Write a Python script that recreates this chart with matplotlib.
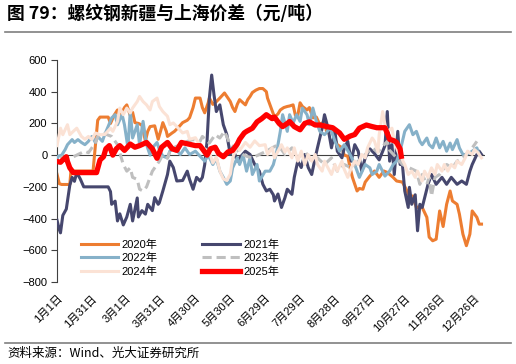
import matplotlib
matplotlib.use("Agg")
import matplotlib.pyplot as plt

plt.rcParams['font.family'] = ['Liberation Sans', 'Noto Sans CJK SC', 'DejaVu Sans']

# day of year (0 = 1月1日) and spread (元/吨) for each year
d2020 = [0, 2, 4, 11, 12, 31, 33, 35, 37, 44, 46, 49, 52, 54, 58, 60, 63, 65, 67, 70, 73, 76, 78, 80,
         84, 87, 89, 91, 94, 95, 99, 101, 105, 108, 112, 114, 117, 119, 123, 125, 127, 130, 131, 134,
         136, 140, 144, 147, 149, 151, 153, 155, 157, 160, 162, 164, 166, 168, 171, 174, 177, 180, 181,
         184, 187, 190, 192, 195, 198, 200, 203, 205, 207, 209, 211, 215, 217, 220, 223, 226, 230, 232,
         236, 239, 241, 245, 247, 250, 252, 254, 258, 260, 263, 265, 269, 273, 277, 281, 284, 289, 292,
         297, 301, 303, 306, 309, 314, 318, 320, 323, 326, 329, 332, 335, 338, 340, 344, 346, 349, 352,
         355, 357, 361, 363, 365]
v2020 = [-120, -180, -185, -185, -100, -100, 60, 220, 240, 240, 200, 250, 285, 240, 300, 317, 250, 270,
         205, 200, 190, 90, 150, 180, 185, 100, 150, 205, 150, 118, 140, 150, 180, 205, 220, 236, 300,
         360, 360, 300, 267, 330, 360, 320, 330, 360, 392, 360, 338, 300, 275, 320, 350, 330, 317, 350,
         370, 395, 410, 420, 420, 400, 360, 300, 240, 260, 285, 300, 307, 310, 317, 250, 250, 330, 307,
         285, 300, 235, 240, 192, 212, 141, 160, 100, 66, 47, 0, -7, -80, -140, -226, -210, -215, -170,
         -132, -100, -140, -100, -109, -140, -163, -170, -226, -257, -258, -330, -330, -392, -517, -540,
         -530, -352, -450, -310, -226, -289, -310, -372, -498, -571, -498, -352, -392, -435, -435]

d2021 = [0, 2, 3, 5, 8, 9, 11, 13, 15, 17, 20, 23, 44, 46, 47, 50, 52, 54, 57, 60, 63, 65, 69, 70, 73,
         76, 78, 82, 84, 87, 88, 91, 95, 97, 100, 103, 108, 112, 114, 117, 120, 123, 125, 127, 129, 131,
         133, 135, 137, 140, 143, 146, 149, 151, 155, 157, 162, 166, 170, 174, 177, 180, 183, 186, 187,
         190, 193, 196, 198, 202, 204, 207, 210, 213, 216, 219, 222, 224, 228, 230, 233, 236, 239, 241,
         245, 247, 250, 253, 256, 259, 262, 265, 269, 273, 277, 282, 284, 286, 288, 290, 293, 295, 297,
         299, 302, 303, 305, 308, 310, 312, 314, 319, 322, 326, 331, 335, 339, 344, 348, 352, 355, 357,
         361, 363, 365]
v2021 = [-410, -470, -490, -380, -340, -290, -190, -140, -165, -110, -150, -200, -200, -230, -310, -290,
         -415, -370, -440, -390, -310, -415, -270, -390, -350, -372, -310, -350, -268, -310, -300, -226,
         -122, -38, -78, -163, -160, -101, -153, -215, -140, -163, -140, -60, 87, 360, 505, 380, 275, 317,
         192, 130, 4, 48, -38, -17, 25, 4, -59, -101, -184, -226, -215, -250, -289, -245, -330, -268,
         -215, -247, -140, -38, -78, 4, -78, -122, -17, 48, 171, 255, 171, 46, 150, 25, -17, 46, 87, -38,
         66, 25, -101, -17, 40, 10, -30, 60, 275, -38, 66, -122, 150, -59, -59, -226, -330, -203, -310,
         -250, -477, -310, -330, -184, -122, -184, -140, -184, -140, -184, -163, -184, -101, -59, 4, 25, 4]

d2022 = [0, 1, 4, 7, 9, 13, 15, 18, 21, 24, 27, 30, 33, 35, 39, 41, 44, 47, 50, 52, 56, 58, 61, 63, 65,
         69, 71, 74, 77, 80, 82, 86, 88, 91, 95, 97, 101, 106, 110, 114, 119, 123, 127, 130, 134, 137,
         140, 143, 146, 149, 151, 155, 157, 160, 163, 166, 168, 172, 174, 179, 183, 186, 189, 192, 194,
         198, 200, 203, 206, 209, 211, 215, 217, 220, 223, 226, 230, 235, 239, 243, 247, 252, 256, 260,
         265, 269, 271, 275, 277, 282, 286, 289, 292, 295, 297, 299, 303, 306, 309, 312, 314, 318, 320,
         323, 326, 329, 332, 335, 338, 340, 344, 346, 349, 352, 355, 357, 361, 363]
v2022 = [-28, -7, 0, 35, 66, 98, 80, 98, 80, 66, 87, 118, 80, 118, 87, 129, 181, 235, 255, 192, 255, 192,
         46, 280, 108, 192, 66, 213, 66, 0, 46, 80, 35, -7, -17, 25, 46, 4, 46, 4, 25, -7, -38, 0, -59,
         -20, -101, -140, -184, -163, -80, -17, -59, 0, -101, -17, -122, -59, -163, -101, -101, -60, 25,
         150, 255, 150, 255, 202, 255, 213, 297, 255, 192, 297, 213, 150, 129, 171, 87, 25, 66, 4, -59,
         -140, -59, -80, -122, -101, -59, -132, -100, -60, -38, 25, 87, 150, 192, 129, 150, 87, 66, 108,
         66, 46, 108, 46, 87, 25, 76, 35, 98, 46, 4, 4, 15, 25, 46, 4]

d2023 = [3, 5, 9, 13, 18, 24, 27, 30, 33, 35, 39, 43, 47, 52, 54, 57, 60, 63, 65, 69, 71, 74, 77, 80, 82,
         86, 88, 91, 95, 97, 100, 106, 112, 117, 123, 125, 131, 136, 140, 144, 149, 153, 157, 163, 168,
         174, 180, 185, 190, 196, 202, 207, 213, 219, 224, 230, 236, 241, 247, 253, 259, 265, 271, 276,
         280, 284, 286, 292, 297, 303, 309, 312, 314, 318, 320, 322, 325, 329, 335, 340, 344, 349, 353,
         357, 359, 361]
v2023 = [-20, -10, -17, -15, 4, 25, 15, 46, 80, 118, 140, 129, 118, 66, 15, -59, -101, -80, -140, -153,
         -215, -226, -200, -140, -101, -59, -38, 4, -20, 20, 46, 66, 87, 98, 87, 118, 76, 129, 108, 150,
         66, 46, 15, -7, -17, 4, 25, 46, 66, 4, 46, -17, 25, -38, -17, -59, -17, -101, -59, -80, -38, 4,
         46, 20, 56, 87, 30, -17, -59, -80, -101, -184, -122, -184, -140, -258, -140, -122, -59, -80, -38,
         -17, 15, 46, 66, 87]

d2024 = [0, 3, 5, 9, 11, 14, 17, 21, 24, 27, 30, 33, 37, 41, 46, 48, 52, 54, 57, 60, 63, 65, 69, 71, 74,
         77, 80, 82, 86, 88, 91, 95, 97, 100, 103, 108, 112, 114, 119, 123, 127, 131, 134, 137, 140, 143,
         146, 149, 151, 155, 157, 162, 166, 170, 174, 179, 181, 185, 187, 190, 193, 196, 198, 202, 204,
         207, 210, 213, 216, 219, 222, 224, 228, 230, 233, 236, 239, 241, 245, 247, 250, 253, 256, 259,
         262, 265, 267, 271, 273, 276, 277, 280, 282, 284, 288, 290, 293, 296, 299, 302, 305, 308, 310,
         314, 316, 319, 322, 325, 327, 331, 333, 336, 339, 342, 344, 348, 351, 353, 357, 359, 362, 365]
v2024 = [60, 170, 129, 192, 129, 150, 170, 118, 100, 118, 98, 140, 129, 130, 170, 150, 213, 297, 255, 297,
         266, 297, 338, 370, 338, 317, 285, 338, 360, 307, 275, 245, 192, 203, 180, 140, 150, 100, 110, 60,
         40, 20, -50, -10, -100, -150, -160, -120, -20, 60, 30, 80, 50, 90, 60, 66, 4, 46, -17, 25, 66, 20,
         46, -17, 46, -38, 25, -59, 4, -38, 4, -59, -101, -38, -80, -122, -59, -101, -38, -90, -140, -80,
         -38, -59, 4, -17, 46, 108, 87, 20, 129, 275, 192, 150, 170, 87, 25, -17, -59, -122, -101, -140,
         -101, -163, -101, -140, -80, -122, -59, -101, -59, -101, -59, -80, -38, -59, -17, 25, 4, 35, 15,
         -17]

d2025 = [0, 3, 5, 8, 9, 11, 14, 34, 37, 40, 42, 45, 48, 51, 54, 58, 63, 67, 71, 77, 82, 86, 90, 95, 99,
         103, 107, 113, 119, 123, 126, 129, 132, 136, 139, 143, 147, 151, 155, 157, 161, 163, 168, 172,
         176, 180, 185, 187, 191, 194, 198, 200, 204, 209, 213, 217, 222, 226, 232, 237, 243, 247, 252,
         256, 260, 266, 271, 275, 282, 286, 290, 292, 295, 296]
v2025 = [-40, -45, -30, -10, -40, -80, -110, -110, -30, -10, 40, 60, 0, 40, 60, 30, 70, 50, 60, 80, 40,
         -20, 50, 80, 40, 30, 80, 70, 60, 60, 30, 0, 40, 50, 10, -10, 20, 30, 70, 100, 140, 150, 170, 210,
         230, 255, 230, 240, 200, 180, 200, 212, 180, 160, 200, 210, 190, 190, 180, 173, 140, 100, 120,
         130, 170, 190, 180, 173, 173, 100, 90, 80, 40, -7]

tick_days = [0, 30, 59, 89, 119, 149, 179, 209, 239, 269, 299, 329, 359]
tick_labels = ['1月1日', '1月31日', '3月1日', '3月31日', '4月30日', '5月30日', '6月29日',
               '7月29日', '8月28日', '9月27日', '10月27日', '11月26日', '12月26日']

fig = plt.figure(figsize=(5.16, 3.64), dpi=100)
ax = fig.add_axes([57 / 516, 1 - 282 / 364, 428 / 516, 222 / 364])

ax.axhline(0, color='#404040', lw=0.8, zorder=1)

l20, = ax.plot(d2020, v2020, color='#ED7D31', lw=2.2, label='2020年', zorder=2)
l21, = ax.plot(d2021, v2021, color='#46476E', lw=2.2, label='2021年', zorder=3)
l22, = ax.plot(d2022, v2022, color='#86B1C9', lw=2.2, label='2022年', zorder=4)
l23, = ax.plot(d2023, v2023, color='#BFBFBF', lw=2.2, ls=(0, (3, 1.6)), label='2023年', zorder=5)
l24, = ax.plot(d2024, v2024, color='#FBE2D5', lw=2.2, label='2024年', zorder=6)
l25, = ax.plot(d2025, v2025, color='#FF0000', lw=3.8, label='2025年', zorder=7)

ax.set_xlim(0, 368)
ax.set_ylim(-800, 600)
ax.set_yticks(range(-800, 601, 200))
ax.set_xticks(tick_days)
ax.set_xticklabels(tick_labels, rotation=45, ha='right', rotation_mode='anchor')

for s in ['top', 'right', 'bottom']:
    ax.spines[s].set_visible(False)
ax.spines['left'].set_color('#404040')
ax.spines['left'].set_linewidth(0.8)
ax.tick_params(axis='y', direction='out', length=4, width=0.8, color='#404040',
               labelsize=8, labelcolor='#000000', pad=3)
ax.tick_params(axis='x', length=0, labelsize=8, pad=8)

ax.legend(handles=[l20, l22, l24, l21, l23, l25], ncol=2, frameon=False,
          loc='upper left', bbox_to_anchor=(0.055, 0.19), fontsize=8,
          handlelength=3.4, handletextpad=0.3, columnspacing=4.0,
          labelspacing=0.25, borderpad=0, borderaxespad=0)

# header, rules and source note
fig.text(7 / 516, 1 - 14 / 364, '图 79：螺纹钢新疆与上海价差（元/吨）', fontsize=12.8,
         fontweight='bold', va='center', ha='left',
         family=['Noto Sans CJK SC', 'DejaVu Sans'])
fig.add_artist(plt.Line2D([5 / 516, 511 / 516], [1 - 32 / 364, 1 - 32 / 364],
                          color='#7F7F7F', lw=1.2))
fig.add_artist(plt.Line2D([5 / 516, 511 / 516], [1 - 343 / 364, 1 - 343 / 364],
                          color='#7F7F7F', lw=1.2))
fig.text(7 / 516, 1 - 353 / 364, '资料来源：Wind、光大证券研究所', fontsize=9,
         va='center', ha='left', family=['Noto Sans CJK SC', 'DejaVu Sans'])

fig.savefig('out.png', dpi=100)
